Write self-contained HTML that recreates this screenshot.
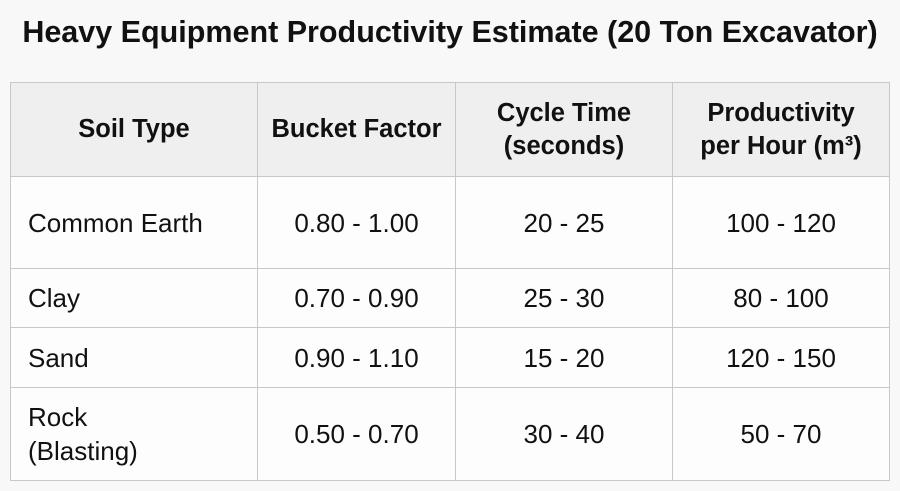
<!DOCTYPE html>
<html><head><style>
body{margin:0;width:900px;height:491px;background:#f8f8f8;font-family:"Liberation Sans",sans-serif;position:relative;overflow:hidden;color:#111}
h1{position:absolute;top:15px;left:0;width:900px;text-align:center;margin:0;font-size:30.5px;font-weight:bold;letter-spacing:0px}
table{position:absolute;left:10px;top:82px;border-collapse:collapse;width:880px}
td,th{border:1.5px solid #c8c8c8;text-align:center;font-size:26px;padding:0}
th{background:#efefef;font-weight:bold;height:93px;line-height:33px;font-size:25.5px}
td{background:#fdfdfd;line-height:34px}
td:first-child{text-align:left;padding-left:17px}
</style></head><body>
<h1>Heavy Equipment Productivity Estimate (20 Ton Excavator)</h1>
<table>
<tr><th style="width:246px">Soil Type</th><th style="width:197px">Bucket Factor</th><th style="width:216px">Cycle Time<br>(seconds)</th><th>Productivity<br>per Hour (m³)</th></tr>
<tr style="height:92px"><td>Common Earth</td><td>0.80 - 1.00</td><td>20 - 25</td><td>100 - 120</td></tr>
<tr style="height:59px"><td>Clay</td><td>0.70 - 0.90</td><td>25 - 30</td><td>80 - 100</td></tr>
<tr style="height:60px"><td>Sand</td><td>0.90 - 1.10</td><td>15 - 20</td><td>120 - 150</td></tr>
<tr style="height:93px"><td>Rock<br>(Blasting)</td><td>0.50 - 0.70</td><td>30 - 40</td><td>50 - 70</td></tr>
</table>
</body></html>
